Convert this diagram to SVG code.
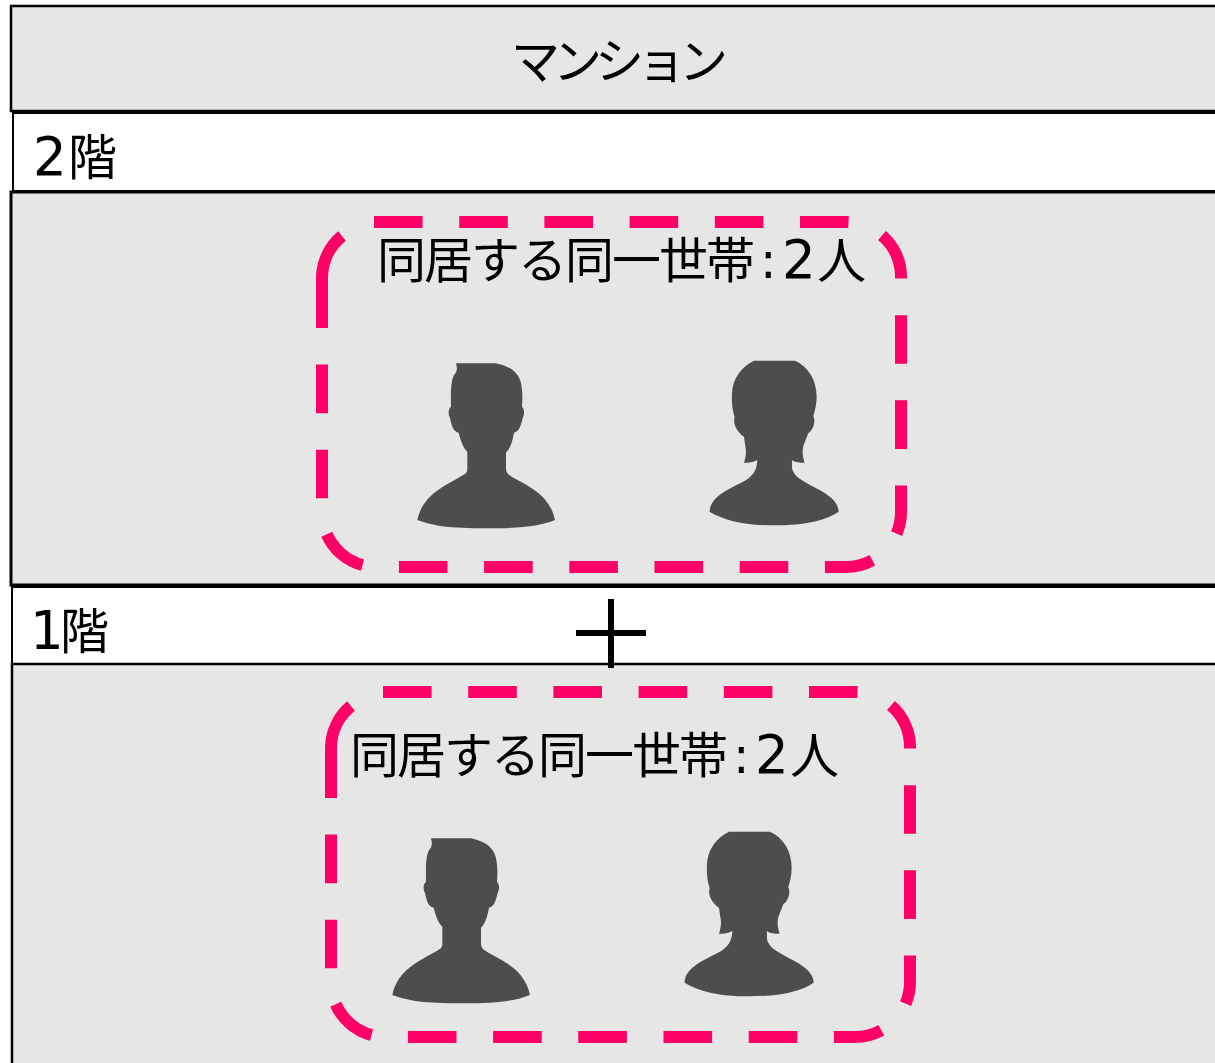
<svg xmlns="http://www.w3.org/2000/svg" width="1215" height="1063" viewBox="0 0 1215 1063">
<style>
.box{fill:#e6e6e6;stroke:#000;stroke-width:2.5}
.strip{fill:#fff;stroke:#000;stroke-width:2}
.t{font-family:"Noto Sans CJK JP","Noto Sans",sans-serif;font-size:49px;fill:#000}
.d{font-family:"DejaVu Sans","Noto Sans CJK JP",sans-serif;font-size:53px}
.c{font-family:"DejaVu Sans","Noto Sans CJK JP",sans-serif;font-size:49px}
.dash{fill:none;stroke:#ff0066;stroke-width:12;stroke-dasharray:48.6 36.6}
.solid{fill:none;stroke:#ff0066;stroke-width:12}
.p{fill:#4d4d4d}
</style>
<defs>
<path id="frame" d="M374 222H846A55 55 0 0 1 901 277V512A55 55 0 0 1 846 567H377A55 55 0 0 1 322 512V327"/>
<path id="corner" d="M322 327V277A55 55 0 0 1 342 236"/>
<path id="male" d="M168 70L288 70C320 78 350 88 362 125C368 150 368 175 366 200C374 208 374 222 368 235C362 258 358 275 342 278C338 300 332 325 318 338L318 385C318 400 326 405 340 413C385 438 450 465 465 540C420 558 370 565 260 565C150 565 100 558 52 540C68 465 130 440 190 405C200 400 202 395 202 385L202 335C188 322 182 300 176 278C160 275 155 258 150 235C144 222 144 208 153 200C153 170 150 130 162 105C172 95 172 85 168 70Z"/>
<path id="female" d="M1062 62L1185 62C1225 80 1250 120 1250 170C1250 190 1246 210 1240 228C1246 240 1244 265 1225 280L1210 318C1206 335 1208 350 1214 368C1200 368 1185 368 1176 360L1176 385C1182 410 1205 422 1240 440C1275 458 1316 480 1316 515C1280 540 1220 556 1120 556C1030 556 970 540 929 515C929 480 965 458 1000 440C1040 420 1070 410 1072 360C1060 368 1045 368 1032 368C1038 350 1040 335 1036 318L1032 290C1010 275 998 250 1004 232C996 205 995 185 996 160C998 115 1025 80 1062 62Z"/>
</defs>
<g id="building">
<rect class="box" x="11" y="6" width="1220" height="105"/>
<text class="t" x="511 553 595 637 679" y="79">マンション</text>
</g>
<g id="floor2-label">
<rect class="strip" x="13" y="113" width="1220" height="78"/>
<text class="t" y="175"><tspan class="d" x="33">2</tspan><tspan x="68">階</tspan></text>
</g>
<g id="floor2">
<rect class="box" x="11" y="192" width="1220" height="393" style="stroke-width:3"/>
<use href="#frame" class="dash"/>
<use href="#corner" class="solid"/>
<text class="t" y="278"><tspan x="377 424 471 518 565 612 659 706">同居する同一世帯</tspan><tspan class="c" x="760">:</tspan><tspan class="d" x="782">2</tspan><tspan x="817">人</tspan></text>
<use href="#male" class="p" transform="translate(400 340) scale(.3333)"/>
<use href="#female" class="p" transform="translate(400 340) scale(.3333)"/>
</g>
<g id="floor1-label">
<rect class="strip" x="12" y="587" width="1220" height="77"/>
<text class="t" y="649"><tspan class="d" x="30">1</tspan><tspan x="60">階</tspan></text>
</g>
<g id="floor1">
<rect class="box" x="12" y="664" width="1220" height="420"/>
<use href="#frame" class="dash" transform="translate(9 470)"/>
<use href="#corner" class="solid" transform="translate(9 470)"/>
<text class="t" y="773"><tspan x="350 397 444 491 538 585 632 679">同居する同一世帯</tspan><tspan class="c" x="733">:</tspan><tspan class="d" x="755">2</tspan><tspan x="790">人</tspan></text>
<use href="#male" class="p" transform="translate(375 815) scale(.3333)"/>
<use href="#female" class="p" transform="translate(375 811) scale(.3333)"/>
</g>
<g id="plus">
<path d="M576 633H646M611 599V668" fill="none" stroke="#000" stroke-width="6"/>
</g>
</svg>
